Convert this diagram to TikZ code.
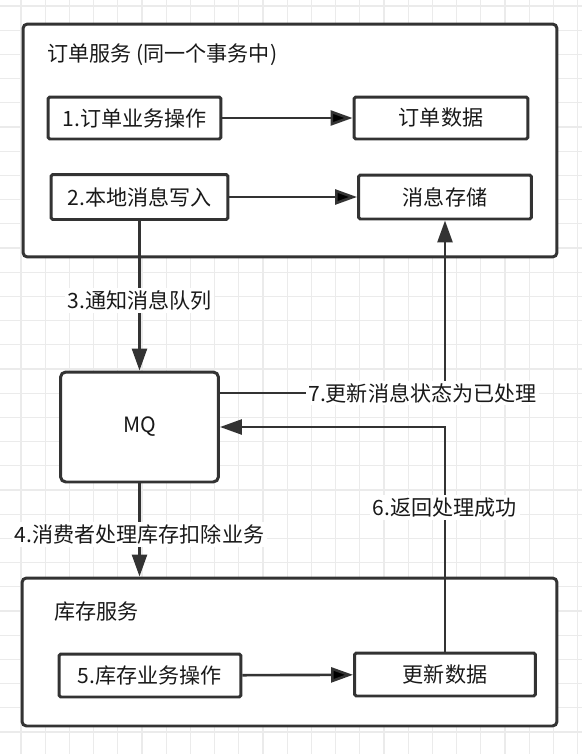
\documentclass[tikz,border=0pt]{standalone}
\usepackage{fontspec}
\setmainfont{Noto Sans CJK SC}
\usetikzlibrary{arrows.meta}
\definecolor{linegray}{HTML}{333333}
\definecolor{gridgray}{HTML}{EBEBEB}
\begin{document}
\begin{tikzpicture}[x=0.02cm,y=-0.02cm,
		font=\fontsize{12}{14.5}\selectfont,
		service/.style={draw=linegray,line width=1.7pt,rounded corners=2.5pt,fill=white},
		task/.style={draw=linegray,line width=1.7pt,rounded corners=1pt,fill=white,text=black!90,inner sep=0pt},
		lbl/.style={fill=white,inner sep=1.5pt,text=black!90},
		flow/.style={draw=linegray,line width=1.5pt,-{Triangle[length=0.44cm,width=0.3cm]}},
		gridline/.style={draw=gridgray,line width=0.6pt}]
			\useasboundingbox (0,0) rectangle (582,754);
			\fill[white] (0,0) rectangle (582,754);
			% grid behind everything
			\foreach \i in {0,...,24}
			\draw[gridline] ({21+24.2*(\i-1)},0) -- ++(0,754);
			\foreach \i in {0,...,31}
			\draw[gridline] (0,{6+24.2*\i}) -- ++(582,0);
			
			\node[service,minimum width=10.68cm,minimum height=4.66cm] (order) at (290,140.5) {};
			\node[anchor=west,inner sep=0pt,text=black!90] (ordertitle) at (47,55) {订单服务 (同一个事务中)};
			\node[task,minimum width=3.46cm,minimum height=0.84cm] (op1) at (134.5,118) {1.订单业务操作};
			\node[task,minimum width=3.48cm,minimum height=0.84cm] (orderdata) at (441,118) {订单数据};
			\node[task,minimum width=3.54cm,minimum height=0.9cm] (op2) at (139.5,197) {2.本地消息写入};
			\node[task,minimum width=3.46cm,minimum height=0.88cm] (msgstore) at (445,197) {消息存储};
			
			\node[task,rounded corners=3pt,minimum width=3.16cm,minimum height=2.2cm] (mq) at (139.5,427) {MQ};
			
			\node[service,minimum width=10.7cm,minimum height=2.96cm] (stock) at (289.5,652) {};
			\node[anchor=west,inner sep=0pt,text=black!90] (stocktitle) at (54,612) {库存服务};
			\node[task,minimum width=3.64cm,minimum height=0.86cm] (op5) at (150,675.5) {5.库存业务操作};
			\node[task,minimum width=3.62cm,minimum height=0.86cm] (update) at (445,674.5) {更新数据};
			
			\path[flow] (op1) edge (orderdata)
			(op2) edge (msgstore)
			(op5) edge (update);
			
			\draw[flow] (op2.south) -- node[lbl,pos=0.53] {3.通知消息队列} (mq.north);
			\draw[flow] (mq.south) -- node[lbl,pos=0.55] {4.消费者处理库存扣除业务} (mq.south |- stock.north);
			\draw[flow] (update.north) |- node[lbl,pos=0.32] {6.返回处理成功} (mq.east);
			\draw[flow] ([yshift=0.68cm]mq.east) -| node[lbl,pos=0.45] {7.更新消息状态为已处理} (msgstore.south);
		\end{tikzpicture}
\end{document}
